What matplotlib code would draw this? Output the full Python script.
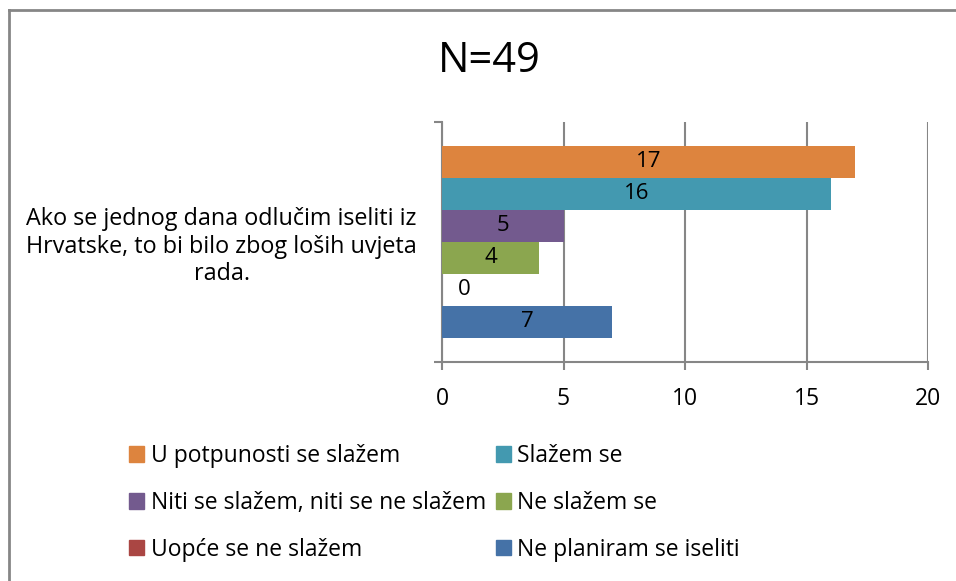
import matplotlib.pyplot as plt
from matplotlib.patches import Patch

series = ['U potpunosti se slažem', 'Slažem se',
          'Niti se slažem, niti se ne slažem', 'Ne slažem se',
          'Uopće se ne slažem', 'Ne planiram se iseliti']
values = [17, 16, 5, 4, 0, 7]
colors = ['#DD843E', '#4399B0', '#735A8E', '#8BA64F', '#AA4643', '#4572A7']
category = 'Ako se jednog dana odlučim iseliti iz\nHrvatske, to bi bilo zbog loših uvjeta\nrada.'
xticks = [0, 5, 10, 15, 20]

plt.rcParams['font.family'] = ['Open Sans', 'DejaVu Sans']
grey = '#868686'

fig = plt.figure(figsize=(9.56, 5.81), dpi=100)
ax = fig.add_axes([442/956, 1 - 362/581, 486/956, 240/581])

h = 0.8 / len(values)
for i, (v, c) in enumerate(zip(values, colors)):
    y = 0.4 - h/2 - i*h
    ax.barh(y, v, height=h, color=c, zorder=3)
    if v == 0:
        ax.annotate(str(v), (0, y), xytext=(16, 0), textcoords='offset points',
                    ha='center', va='center', fontsize=16, zorder=4)
    else:
        ax.text(v/2, y, str(v), ha='center', va='center', fontsize=16, zorder=4)

ax.set_xlim(0, 20)
ax.set_ylim(-0.5, 0.5)
ax.set_xticks(xticks)
ax.tick_params(axis='x', length=6, width=1.5, color=grey, labelsize=16.5, pad=12)
ax.set_yticks([0])
ax.set_yticklabels([category], multialignment='center', fontsize=16.8)
ax.set_yticks([-0.5, 0.5], minor=True)
ax.tick_params(axis='y', which='major', length=0, pad=18)
ax.tick_params(axis='y', which='minor', length=6, width=1.5, color=grey)
ax.grid(axis='x', color=grey, linewidth=1.5, zorder=0)
for s in ['top', 'right']:
    ax.spines[s].set_visible(False)
for s in ['left', 'bottom']:
    ax.spines[s].set_color(grey)
    ax.spines[s].set_linewidth(1.5)

fig.text(489/956, 1 - 61/581, 'N=49', ha='center', va='center', fontsize=30)

handles = [Patch(color=c) for c in colors]
order = [0, 2, 4, 1, 3, 5]
fig.legend([handles[i] for i in order], [series[i] for i in order], ncol=2,
           loc='upper left', bbox_to_anchor=(129/956, 1 - 444/581), frameon=False,
           fontsize=16.5, handlelength=0.65, handleheight=0.65, handletextpad=0.3,
           labelspacing=1.0, columnspacing=0.42, borderpad=0, borderaxespad=0)

# chart border (top and left visible)
fig.add_artist(plt.Line2D([9/956, 9/956], [0, 1 - 10/581], color=grey, linewidth=2))
fig.add_artist(plt.Line2D([9/956, 1], [1 - 10/581, 1 - 10/581], color=grey, linewidth=2))

fig.savefig('out.png', dpi=100)
